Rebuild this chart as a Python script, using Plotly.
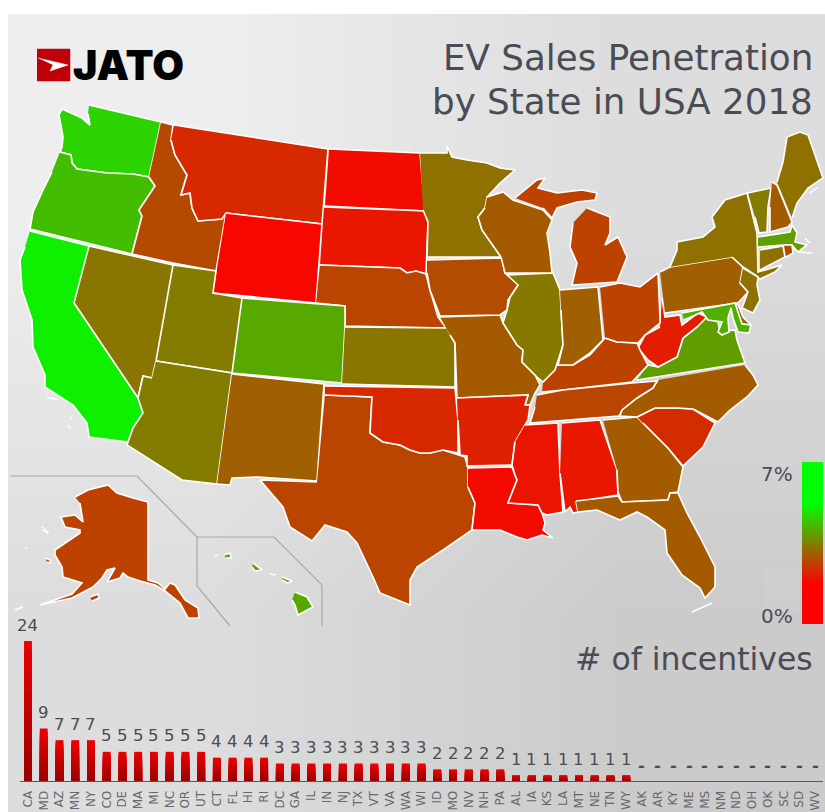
import plotly.graph_objects as go

# bar chart data
state_codes = ["CA", "MD", "AZ", "MN", "NY", "CO", "DE", "MA", "MI", "NC", "OR", "UT", "CT", "FL", "HI", "RI", "DC",
               "GA", "IL", "IN", "NJ", "TX", "VT", "VA", "WA", "WI", "ID", "MO", "NV", "NH", "PA", "AL", "IA", "KS",
               "LA", "MT", "NE", "TN", "WY", "AK", "AR", "KY", "ME", "MS", "NM", "ND", "OH", "OK", "SC", "SD", "WV"]
incentives = [24, 9, 7, 7, 7, 5, 5, 5, 5, 5, 5, 5, 4, 4, 4, 4, 3, 3, 3, 3, 3, 3, 3, 3, 3, 3, 2, 2, 2, 2, 2,
              1, 1, 1, 1, 1, 1, 1, 1, 0, 0, 0, 0, 0, 0, 0, 0, 0, 0, 0, 0]

# EV share in percent
penetration = {
    "CA": 6.6, "WA": 5.8, "OR": 5.2, "ID": 2.0, "MT": 1.1, "ND": 0.3, "SD": 0.6, "WY": 0.2, "NV": 3.2, "UT": 3.4,
    "CO": 4.6, "AZ": 3.4, "NM": 2.6, "NE": 1.9, "KS": 3.2, "OK": 1.1, "TX": 1.9, "MN": 3.1, "IA": 2.1, "MO": 2.5,
    "AR": 0.9, "LA": 0.3, "WI": 2.5, "IL": 3.3, "MI": 1.8, "IN": 2.6, "OH": 1.8, "KY": 1.8, "TN": 1.9, "MS": 0.55,
    "AL": 0.6, "GA": 2.5, "FL": 2.5, "SC": 1.2, "NC": 2.5, "VA": 4.3, "WV": 0.8, "PA": 2.6, "NY": 3.1, "VT": 3.4,
    "NH": 2.5, "ME": 3.1, "MA": 4.4, "CT": 3.1, "RI": 2.0, "NJ": 3.1, "DE": 3.0, "MD": 4.8, "AK": 1.8, "HI": 4.6,
}

# state outlines
WA = [(89,105),(161,122),(149,177),(133,174),(107,173),(92,171),(77,169),(72,163),(71,155),(60,152),(62,147),(63,137),
      (59,115),(62,109),(82,118),(86,122),(90,125),(88,114)]
OR = [(60,152),(71,155),(72,163),(77,169),(92,171),(107,173),(133,174),(149,177),(155,186),(147,198),(139,210),(142,216),
      (132,254),(30,229),(33,212),(43,190),(52,172)]
ID = [(161,122),(173,125),(171,140),(175,155),(187,175),(181,195),(190,193),(192,208),(198,221),(222,219),(226,213),
      (216,271),(173,263),(132,254),(142,216),(139,210),(147,198),(155,186),(149,177)]
MT = [(174,125),(328,149),(322,224),(226,213),(222,219),(198,221),(192,208),(190,193),(181,195),(187,175),(175,155),(171,140)]
WY = [(226,213),(322,224),(316,303),(213,293)]
ND = [(329,149),(420,153),(421,165),(425,211),(325,206)]
SD = [(324,207),(425,211),(428,222),(427,260),(426,274),(416,271),(407,273),(400,268),(320,265)]
NE = [(320,265),(400,268),(407,273),(416,271),(426,274),(430,290),(438,317),(446,328),(345,326),(345,306),(316,303)]
CO = [(242,298),(345,306),(345,326),(342,383),(232,373)]
KS = [(345,327),(447,328),(455,343),(455,387),(342,384)]
UT = [(173,265),(216,271),(213,293),(242,298),(232,373),(156,361)]
NV = [(89,246),(173,265),(156,361),(152,378),(143,376),(138,398),(74,303)]
CA = [(30,231),(89,246),(74,303),(138,398),(143,413),(133,428),(128,442),(89,437),(87,423),(73,405),(45,387),(45,375),
      (33,347),(32,320),(22,290),(20,260),(25,247)]
AZ = [(156,361),(232,373),(217,484),(182,480),(127,445),(128,442),(133,428),(143,413),(138,398),(143,376),(152,378)]
NM = [(232,374),(324,384),(317,481),(258,477),(232,478),(230,485),(217,484)]
TX = [(325,395),(372,397),(370,433),(383,442),(400,445),(410,450),(420,453),(430,453),(443,450),(465,457),(468,468),
      (468,487),(475,503),(472,530),(443,550),(417,567),(410,580),(410,605),(380,593),(373,577),(357,543),(347,532),
      (325,525),(312,541),(290,527),(283,507),(260,480),(317,482)]
OK = [(325,386),(455,388),(458,420),(458,453),(443,450),(430,453),(420,453),(410,450),(400,445),(383,442),(370,433),
      (372,397),(325,395)]
MO = [(440,317),(500,315),(503,323),(517,345),(523,350),(522,362),(535,375),(540,385),(535,393),(530,405),(525,405),
      (528,395),(457,398),(455,343),(450,335)]
AR = [(457,398),(528,395),(525,405),(530,405),(528,420),(515,442),(512,465),(467,466),(467,456),(460,455),(458,420)]
LA = [(468,468),(512,467),(515,475),(517,480),(508,503),(538,505),(542,513),(545,523),(543,530),(553,538),(542,535),
      (527,540),(517,537),(500,530),(472,530),(475,503),(468,487)]
MS = [(525,425),(558,423),(560,473),(563,512),(547,515),(542,513),(538,505),(508,503),(517,480),(515,475),(512,465),(515,442)]
AL = [(562,423),(600,420),(617,470),(618,495),(576,502),(578,512),(573,513),(570,507),(565,512),(560,473)]
GA = [(603,420),(637,417),(643,423),(668,448),(683,467),(678,492),(670,493),(668,500),(622,502),(618,492),(617,470)]
FL = [(576,501),(618,496),(622,502),(668,500),(670,493),(678,493),(687,513),(700,537),(715,567),(715,587),(705,598),
      (700,588),(682,575),(667,553),(665,530),(647,517),(637,512),(620,520),(597,510),(578,512)]
SC = [(637,417),(655,408),(677,408),(693,409),(715,423),(703,447),(683,466),(668,448),(643,423)]
NC = [(745,365),(753,375),(758,385),(747,397),(730,410),(718,422),(693,409),(677,408),(655,408),(637,417),(620,416),
      (622,410),(637,398),(653,388),(658,380)]
VA = [(637,380),(745,363),(737,340),(735,330),(720,332),(718,322),(707,317),(703,315),(697,327),(683,338),(677,357),
      (658,367),(648,365)]
WV = [(662,298),(665,317),(680,315),(682,325),(698,313),(707,317),(697,327),(683,338),(677,357),(658,367),(648,360),
      (638,348),(645,335),(660,327)]
KY = [(543,382),(557,365),(573,365),(590,355),(605,338),(617,342),(637,343),(640,350),(648,365),(632,382),(563,390),(542,392)]
TN = [(537,395),(563,390),(632,383),(657,381),(653,388),(637,398),(622,410),(619,416),(530,423),(535,407)]
IL = [(505,275),(553,273),(560,290),(561,310),(563,345),(555,370),(543,382),(537,377),(522,362),(523,350),(517,345),
      (503,323),(507,310),(510,297),(518,285)]
IA = [(427,260),(502,258),(505,273),(518,285),(508,300),(507,310),(500,315),(440,316),(430,290),(427,273)]
MN = [(420,153),(447,153),(447,146),(452,157),(467,160),(487,163),(500,168),(515,170),(500,183),(487,197),(485,208),
      (478,217),(482,230),(501,257),(427,257),(428,222),(423,210)]
WI = [(487,197),(503,192),(513,200),(543,210),(552,220),(547,233),(550,253),(552,273),(505,273),(501,257),(482,230),
      (478,217),(485,208)]
MI = [(515,198),(537,180),(545,178),(538,188),(557,193),(582,190),(597,193),(595,200),(577,202),(557,208),(552,218),(543,208),
      None,
      (587,208),(610,217),(610,233),(605,245),(618,237),(627,257),(623,267),(617,282),(572,285),(577,263),(570,247),(573,223)]
IN = [(560,290),(598,287),(603,340),(590,353),(573,365),(558,365),(563,345),(561,310)]
OH = [(600,287),(620,283),(640,287),(658,273),(660,317),(660,323),(645,335),(638,343),(617,342),(605,338)]
PA = [(660,272),(670,267),(732,257),(743,267),(740,283),(748,292),(738,303),(665,313)]
NY = [(670,267),(677,250),(677,242),(703,237),(715,227),(712,217),(725,200),(747,193),(757,233),(758,272),(782,265),
      (775,272),(760,279),(755,275),(743,267),(732,257)]
NJ = [(743,268),(758,277),(757,285),(760,300),(753,313),(742,308),(748,292),(740,283)]
DE = [(737,302),(743,317),(751,325),(742,324),(738,317)]
MD = [(682,313),(735,303),(742,324),(751,325),(749,333),(738,332),(733,318),(731,308),(728,318),(729,332),(722,335),
      (718,332),(722,322),(708,320),(702,312),(684,320)]
VT = [(748,193),(771,188),(768,207),(767,232),(759,233),(755,217)]
NH = [(772,182),(777,185),(792,222),(788,227),(770,232),(770,207)]
ME = [(777,182),(783,162),(787,137),(800,132),(808,135),(823,178),(808,188),(797,203),(792,218)]
MA = [(758,237),(790,232),(792,225),(797,233),(795,242),(807,245),(798,252),(792,245),(783,245),(758,247)]
CT = [(760,250),(783,246),(785,257),(760,270)]
RI = [(784,245),(792,245),(793,253),(786,257)]
AK = [(75,497),(88,490),(108,485),(117,493),(133,498),(148,502),(148,580),(158,583),(165,589),(170,583),(175,585),(185,600),
      (198,608),(199,618),(188,618),(180,603),(165,591),(155,585),(140,581),(128,577),(123,573),(120,578),(107,582),(115,568),
      (107,570),(102,578),(93,587),(72,598),(40,605),(72,594),(82,583),(63,577),(62,567),(55,555),(55,550),(67,542),(80,533),
      (80,530),(65,527),(61,517),(75,515),(83,522),(80,503),
      None,
      (90,597),(98,594),(99,598),(92,601),
      None,
      (45,558),(50,560),(51,563),(47,562),
      None,
      (42,527),(48,532),(47,533),(42,529)]
HI = [(295,592),(307,597),(313,607),(298,615),(295,605),(292,600),
      None,
      (282,577),(292,581),(288,583),(282,580),
      None,
      (253,563),(262,570),(255,571),(252,567),
      None,
      (224,555),(230,553),(231,558),(226,558)]

outlines = {"WA": WA, "OR": OR, "ID": ID, "MT": MT, "WY": WY, "ND": ND, "SD": SD, "NE": NE, "CO": CO, "KS": KS, "UT": UT,
            "NV": NV, "CA": CA, "AZ": AZ, "NM": NM, "TX": TX, "OK": OK, "MO": MO, "AR": AR, "LA": LA, "MS": MS, "AL": AL,
            "GA": GA, "FL": FL, "SC": SC, "NC": NC, "VA": VA, "WV": WV, "KY": KY, "TN": TN, "IL": IL, "IA": IA, "MN": MN,
            "WI": WI, "MI": MI, "IN": IN, "OH": OH, "PA": PA, "NY": NY, "NJ": NJ, "DE": DE, "MD": MD, "VT": VT, "NH": NH,
            "ME": ME, "MA": MA, "CT": CT, "RI": RI, "AK": AK, "HI": HI}

# tiny islands that only show as white flecks
flecks = [(47,398),(57,399),None,(70,417),(72,419),None,(68,425),(70,428),None,(692,612),(712,603),None,
          (805,238),(810,243),None,(798,252),(812,253),None,(810,193),(818,187),None,(15,610),(23,607),None,
          (25,547),(27,549),None,(215,556),(218,555),None,(270,574),(276,575)]

alaska_box = [(10,476),(137,476),(197,537)]
hawaii_box = [(230,626),(197,586),(197,537),(274,537),(322,585),(322,626)]
logo_square = [(37,49),(70,49),(70,81),(37,81)]
logo_arrow = [(38,58),(68,65),(50,71),(53,65)]

TEXT = "#4a4c55"
FONT = "DejaVu Sans"


def ramp(v):
    t = v / 7
    return f"rgb({round(255 * (1 - t))},{round(255 * t)},0)"


def unzip(points):
    xs = [p[0] if p else None for p in points]
    ys = [p[1] if p else None for p in points]
    return xs, ys


fig = go.Figure()

# grey panel behind everything
fig.add_trace(go.Heatmap(
    x=[8, 416.5, 825], y=[14, 413, 812], z=[[0, 0.5], [0.5, 1]], zsmooth="best", showscale=False, hoverinfo="skip",
    colorscale=[[0, "#eeeeee"], [1, "#cbcbcb"]], zmin=0, zmax=1,
))

# colour key
fig.add_trace(go.Heatmap(
    x=[802, 812.5, 823], y=[462, 543, 624], z=[[7, 7], [0, 0]], zsmooth="best", showscale=False, hoverinfo="skip",
    colorscale=[[0, "#ff0000"], [1, "#00ff00"]], zmin=0, zmax=7,
))

for box in (alaska_box, hawaii_box):
    xs, ys = unzip(box)
    fig.add_trace(go.Scatter(x=xs, y=ys, mode="lines", line=dict(color="#a9a9a9", width=1.2), hoverinfo="skip"))

for code, points in outlines.items():
    xs, ys = unzip(points + [None])
    fig.add_trace(go.Scatter(
        x=xs, y=ys, mode="lines", fill="toself", fillcolor=ramp(penetration[code]),
        line=dict(color="white", width=1.6), name=code, hoverinfo="name",
    ))

xs, ys = unzip(flecks)
fig.add_trace(go.Scatter(x=xs, y=ys, mode="lines", line=dict(color="white", width=1.5), hoverinfo="skip"))

for part, colour in ((logo_square, "#c00008"), (logo_arrow, "white")):
    xs, ys = unzip(part)
    fig.add_trace(go.Scatter(x=xs, y=ys, mode="lines", fill="toself", fillcolor=colour, line=dict(color=colour, width=0.5),
                             hoverinfo="skip"))
fig.add_shape(type="rect", x0=763, x1=800, y0=566, y1=612, xref="x", yref="y",
              fillcolor="rgba(255,255,255,0.05)", line_width=0)

# stacked-up copies of each bar fake the vertical gradient
layers = 14
for i in range(layers):
    f = 1 - i / layers
    r = round(150 + 85 * f)
    fig.add_trace(go.Bar(
        x=state_codes, y=[v * f for v in incentives], xaxis="x2", yaxis="y2", width=0.5,
        marker=dict(color=f"rgb({r},0,0)", line_width=0), hoverinfo="skip",
    ))

for code, v in zip(state_codes, incentives):
    fig.add_annotation(x=code, y=v, xref="x2", yref="y2", text=str(v) if v else "<b>-</b>", showarrow=False, yshift=16,
                       font=dict(family=FONT, size=16.5, color=TEXT))


def label(text, x, y, size, anchor="right", color=TEXT, family=FONT, weight=None):
    fig.add_annotation(x=x, y=y, xref="x", yref="y", text=text, showarrow=False, xanchor=anchor, yanchor="middle",
                       font=dict(family=family, size=size, color=color, weight=weight))


label("EV Sales Penetration", 815, 57, 35.7)
label("by State in USA 2018", 815, 101, 35.7)
label("# of incentives", 815, 659, 31.5)
label("7%", 795, 474, 20)
label("0%", 795, 616, 20)
label("JATO", 71, 65, 41, anchor="left", color="black", family="Inter", weight=900)

fig.update_layout(
    template="none",
    width=825, height=812,
    margin=dict(l=0, r=0, t=0, b=0),
    paper_bgcolor="white", plot_bgcolor="rgba(0,0,0,0)",
    showlegend=False, barmode="overlay", bargap=0.5,
    xaxis=dict(range=[0, 825], domain=[0, 1], visible=False, fixedrange=True),
    yaxis=dict(range=[812, 0], domain=[0, 1], visible=False, fixedrange=True),
    xaxis2=dict(
        anchor="y2", domain=[20.1 / 825, 823 / 825], type="category", categoryorder="array", categoryarray=state_codes,
        range=[-0.5, 50.5], showgrid=False, ticks="", showline=True, linecolor="#55565e", linewidth=1,
        tickangle=-90, tickfont=dict(family=FONT, size=12, color="#66676f"), ticklabelstandoff=4, tickmode="array",
        tickvals=state_codes, ticktext=state_codes,
    ),
    yaxis2=dict(anchor="x2", domain=[31 / 812, 171 / 812], range=[0, 24], visible=False),
)

fig.write_html("out.html", config={"displayModeBar": False},
               post_script="document.body.style.margin='0';document.body.style.overflow='hidden';")
